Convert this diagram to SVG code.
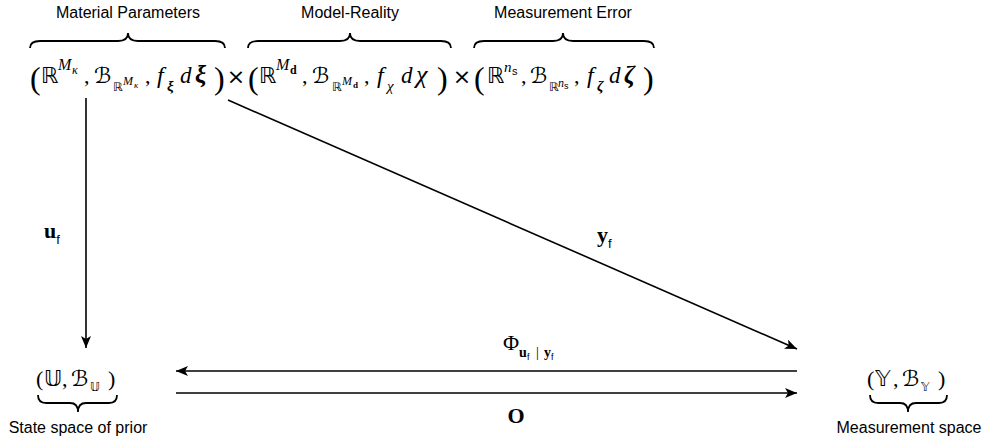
<svg xmlns="http://www.w3.org/2000/svg" width="983" height="441" viewBox="0 0 983 441">
<style>
.lbl{font-family:'Liberation Sans',Arial,sans-serif;font-size:16px;fill:#000}
.m{font-family:'Liberation Serif','DejaVu Serif','DejaVu Sans',serif;fill:#000;font-size:22px}
.bb{font-family:'DejaVu Sans',sans-serif;font-style:normal;font-weight:normal}
.ss{font-family:'Liberation Sans',sans-serif;font-style:normal;font-weight:normal}
.it{font-style:italic}
.bf{font-weight:bold}
.br{fill:none;stroke:#000;stroke-width:1.8}
.edge{fill:none;stroke:#000;stroke-width:1.6}
</style>
<defs>
<marker id="ah" viewBox="0 0 12 10" refX="12" refY="5" markerWidth="12" markerHeight="10" orient="auto" markerUnits="userSpaceOnUse">
<path d="M0,0 L12,5 L0,10 L3,5 z" fill="#000"/>
</marker>
</defs>

<g id="product-space">
<text class="lbl" x="128" y="18" text-anchor="middle">Material Parameters</text>
<text class="lbl" x="350" y="18" text-anchor="middle">Model-Reality</text>
<text class="lbl" x="563" y="18" text-anchor="middle">Measurement Error</text>
<path class="br" d="M30,48 Q30,41 40,41 L118,41 Q128,41 128,33 Q128,41 138,41 L215,41 Q225,41 225,48"/>
<path class="br" d="M248,48 Q248,41 258,41 L340,41 Q350,41 350,33 Q350,41 360,41 L441,41 Q451,41 451,48"/>
<path class="br" d="M474,48 Q474,41 484,41 L553,41 Q563,41 563,33 Q563,41 573,41 L644,41 Q654,41 654,48"/>
<text class="m"><tspan x="30" y="89" font-size="32">(</tspan><tspan class="bb" x="41" y="83">ℝ</tspan><tspan class="it" x="58" y="70" font-size="16">M</tspan><tspan class="it" x="72" y="74" font-size="12">κ</tspan><tspan x="84" y="83">,</tspan><tspan class="it" x="94" y="83">ℬ</tspan><tspan class="bb" x="113" y="91" font-size="12">ℝ</tspan><tspan class="it" x="123" y="85" font-size="12">M</tspan><tspan class="it" x="134" y="88" font-size="9">κ</tspan><tspan x="145" y="83">,</tspan><tspan class="it" x="157" y="83" font-size="24">f</tspan><tspan class="it bf" x="167" y="91" font-size="15">ξ</tspan><tspan class="it" x="180" y="83" font-size="23">d</tspan><tspan class="it bf" x="195" y="83" font-size="25">ξ</tspan><tspan x="214" y="89" font-size="32">)</tspan></text>
<text class="m bb" x="236" y="84" text-anchor="middle" font-size="26">×</text>
<text class="m"><tspan x="248" y="89" font-size="32">(</tspan><tspan class="bb" x="259" y="83">ℝ</tspan><tspan class="it" x="276" y="70" font-size="16">M</tspan><tspan class="bf" x="290" y="74" font-size="12">d</tspan><tspan x="302" y="83">,</tspan><tspan class="it" x="312" y="83">ℬ</tspan><tspan class="bb" x="332" y="91" font-size="12">ℝ</tspan><tspan class="it" x="342" y="85" font-size="12">M</tspan><tspan class="bf" x="353" y="88" font-size="9">d</tspan><tspan x="364" y="83">,</tspan><tspan class="it" x="377" y="83" font-size="24">f</tspan><tspan class="it" x="387" y="91" font-size="15">χ</tspan><tspan class="it" x="401" y="83" font-size="23">d</tspan><tspan class="it" x="416" y="83" font-size="26">χ</tspan><tspan x="437" y="89" font-size="32">)</tspan></text>
<text class="m bb" x="462" y="84" text-anchor="middle" font-size="26">×</text>
<text class="m"><tspan x="474" y="89" font-size="32">(</tspan><tspan class="bb" x="487" y="83">ℝ</tspan><tspan class="it" x="504" y="72" font-size="15">n</tspan><tspan class="ss" x="512" y="75" font-size="11">s</tspan><tspan x="521" y="83">,</tspan><tspan class="it" x="530" y="83">ℬ</tspan><tspan class="bb" x="549" y="91" font-size="12">ℝ</tspan><tspan class="it" x="558" y="87" font-size="12">n</tspan><tspan class="ss" x="564" y="89" font-size="9">s</tspan><tspan x="574" y="83">,</tspan><tspan class="it" x="587" y="83" font-size="24">f</tspan><tspan class="it bf" x="597" y="91" font-size="15">ζ</tspan><tspan class="it" x="609" y="83" font-size="23">d</tspan><tspan class="it bf" x="624" y="83" font-size="25">ζ</tspan><tspan x="643" y="89" font-size="32">)</tspan></text>
</g>

<g id="state-space">
<text class="m" font-size="21"><tspan x="36" y="386">(</tspan><tspan class="bb" x="44" y="386">𝕌</tspan><tspan x="62" y="386">,</tspan><tspan class="it" x="71" y="386">ℬ</tspan><tspan class="bb" x="90" y="391" font-size="12">𝕌</tspan><tspan x="108" y="386">)</tspan></text>
<path class="br" d="M38,395 Q38,403 46,403 L70,403 Q78,403 78,412 Q78,403 86,403 L109,403 Q117,403 117,395"/>
<text class="lbl" x="78" y="433" text-anchor="middle">State space of prior</text>
</g>

<g id="measurement-space">
<text class="m" font-size="21"><tspan x="867" y="386">(</tspan><tspan class="bb" x="875" y="386">𝕐</tspan><tspan x="893" y="386">,</tspan><tspan class="it" x="902" y="386">ℬ</tspan><tspan class="bb" x="921" y="391" font-size="12">𝕐</tspan><tspan x="938" y="386">)</tspan></text>
<path class="br" d="M870,395 Q870,403 878,403 L900,403 Q908,403 908,412 Q908,403 916,403 L939,403 Q947,403 947,395"/>
<text class="lbl" x="909" y="433" text-anchor="middle">Measurement space</text>
</g>

<g id="connectors">
<path class="edge" d="M86,98 L86,348" marker-end="url(#ah)"/>
<path class="edge" d="M228,100 L797,349" marker-end="url(#ah)"/>
<path class="edge" d="M797,371 L176,371" marker-end="url(#ah)"/>
<path class="edge" d="M176,393 L797,393" marker-end="url(#ah)"/>
<text class="m bf" x="44" y="238" font-size="22">u<tspan class="ss" font-size="13" y="244">f</tspan></text>
<text class="m bf" x="597" y="242" font-size="22">y<tspan class="ss" font-size="13" y="248">f</tspan></text>
<text class="m"><tspan x="503" y="350" font-size="22">Φ</tspan><tspan class="bf" x="519" y="357" font-size="14">u</tspan><tspan class="ss" x="527" y="360" font-size="9">f</tspan><tspan x="536" y="357" font-size="14">|</tspan><tspan class="bf" x="544" y="357" font-size="14">y</tspan><tspan class="ss" x="551" y="360" font-size="9">f</tspan></text>
<text class="m bf" x="516" y="423" font-size="22" text-anchor="middle">O</text>
</g>
</svg>
